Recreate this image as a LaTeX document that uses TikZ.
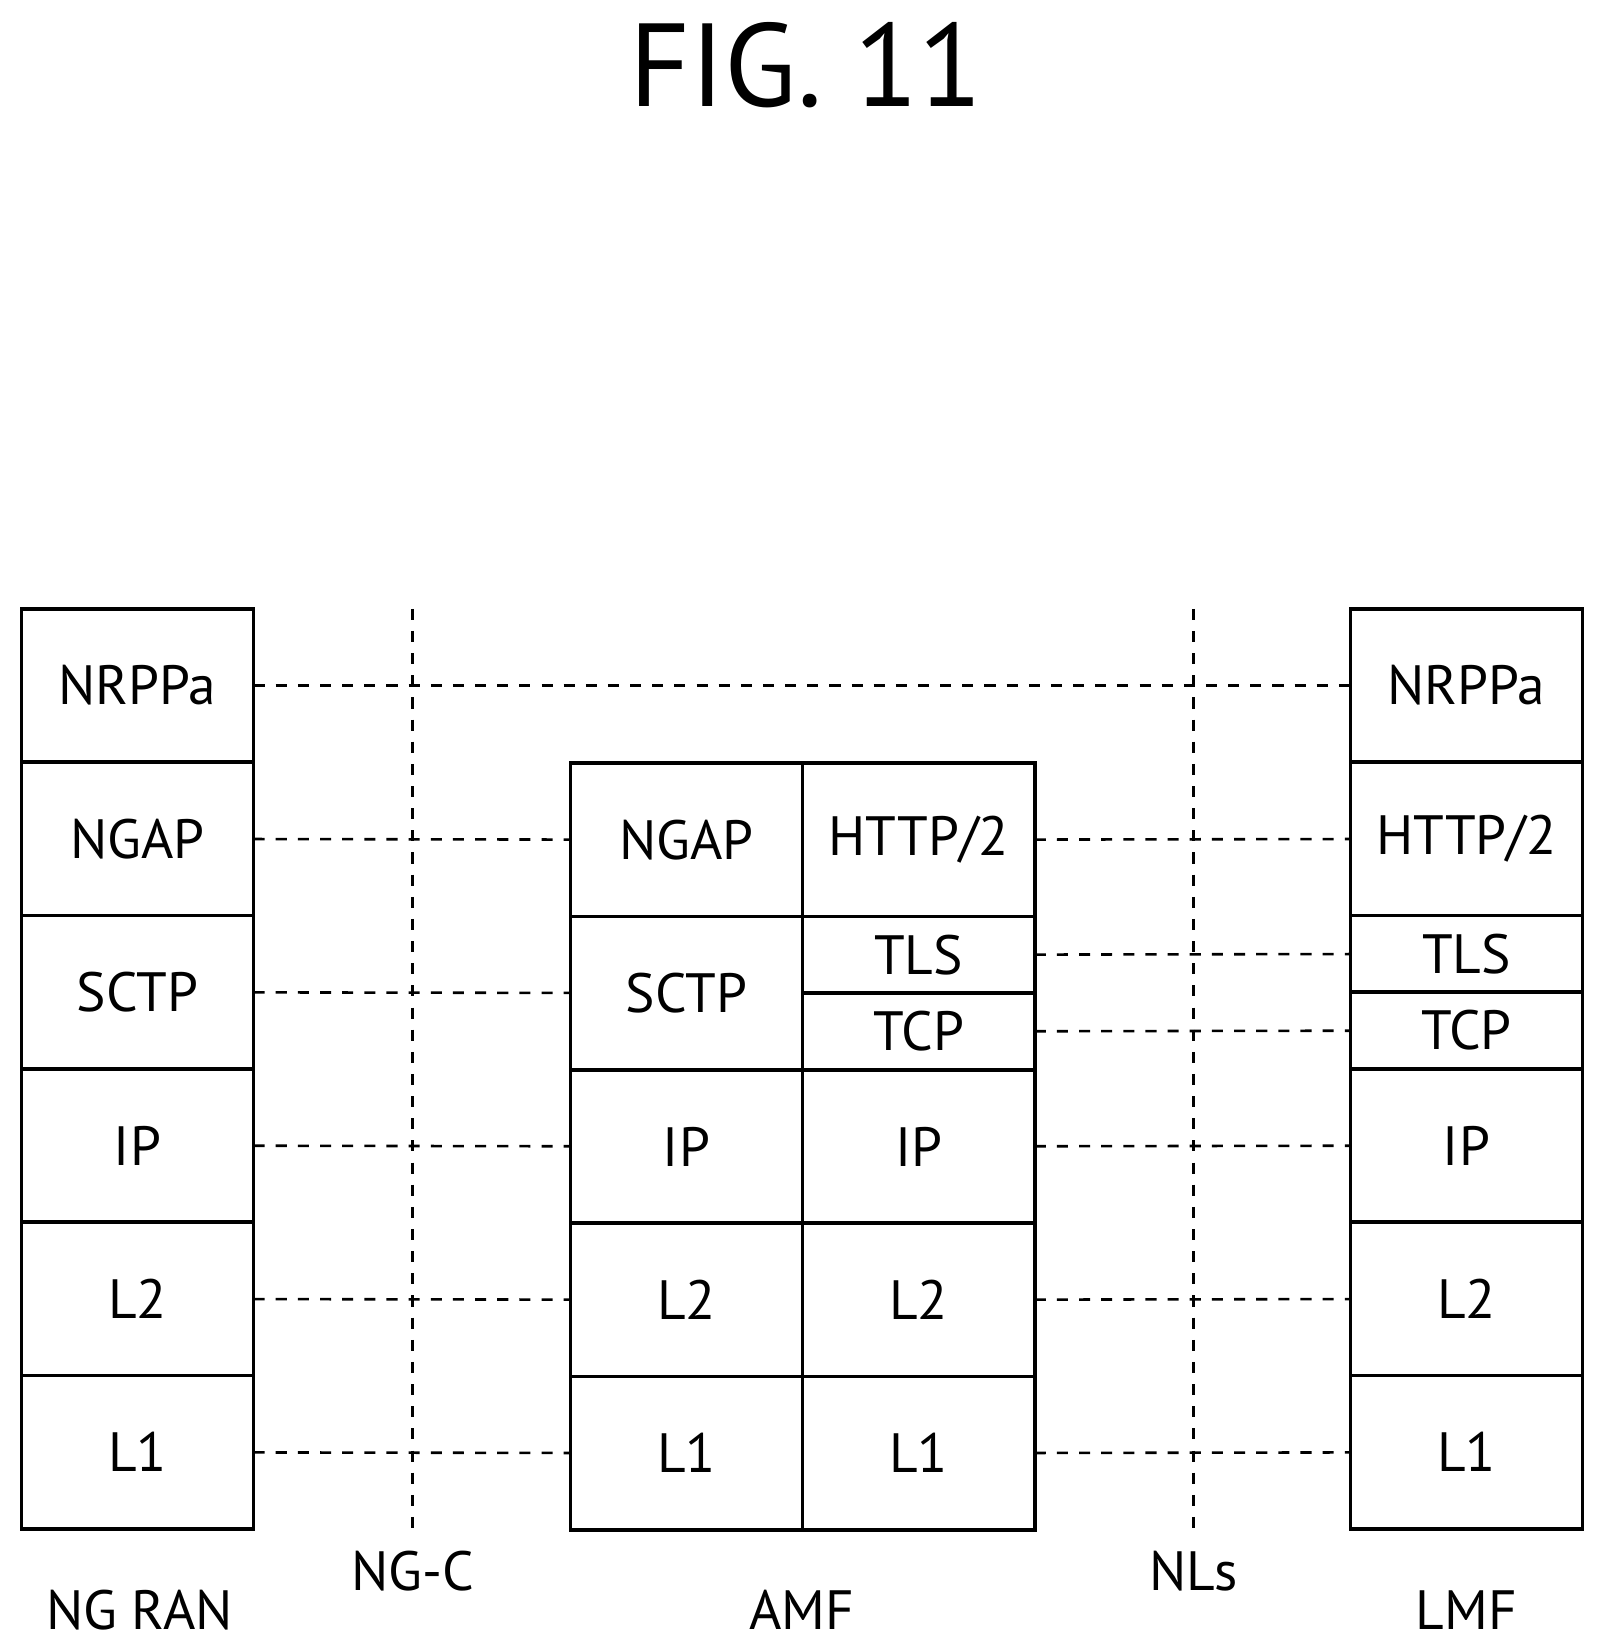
\documentclass[tikz,border=0pt]{standalone}
\usepackage{fontspec}
\setmainfont{PT Sans}
\usetikzlibrary{positioning}
\begin{document}
\begin{tikzpicture}[
  x=0.01cm, y=-0.01cm,
  font=\fontsize{15}{17}\selectfont,
  layer/.style={draw, line width=1pt, outer sep=0pt, minimum width=2.21cm, minimum height=1.46cm, inner sep=0pt},
  half/.style={layer, minimum height=0.73cm},
  peer/.style={dashed, line width=0.7pt}
]
\useasboundingbox (0,0) rectangle (1530,1569);
% Title
\node (title) at (768,62) {\fontsize{32}{36}\selectfont FIG. 11};

% NG RAN stack
\node[layer] (ran1) at (131,653) {NRPPa};
\node[layer, below=0pt of ran1] (ran2) {NGAP};
\node[layer, below=0pt of ran2] (ran3) {SCTP};
\node[layer, below=0pt of ran3] (ran4) {IP};
\node[layer, below=0pt of ran4] (ran5) {L2};
\node[layer, below=0pt of ran5] (ran6) {L1};

% AMF stack
\node[layer] (amfa2) at (654,800) {NGAP};
\node[layer, below=0pt of amfa2] (amfa3) {SCTP};
\node[layer, below=0pt of amfa3] (amfa4) {IP};
\node[layer, below=0pt of amfa4] (amfa5) {L2};
\node[layer, below=0pt of amfa5] (amfa6) {L1};
\node[layer, right=0pt of amfa2] (amfb2) {HTTP/2};
\node[half, below=0pt of amfb2] (amfb3) {TLS};
\node[half, below=0pt of amfb3] (amfb4) {TCP};
\node[layer, below=0pt of amfb4] (amfb5) {IP};
\node[layer, below=0pt of amfb5] (amfb6) {L2};
\node[layer, below=0pt of amfb6] (amfb7) {L1};

% LMF stack
\node[layer] (lmf1) at (1397,653) {NRPPa};
\node[layer, below=0pt of lmf1] (lmf2) {HTTP/2};
\node[half, below=0pt of lmf2] (lmf3) {TLS};
\node[half, below=0pt of lmf3] (lmf4) {TCP};
\node[layer, below=0pt of lmf4] (lmf5) {IP};
\node[layer, below=0pt of lmf5] (lmf6) {L2};
\node[layer, below=0pt of lmf6] (lmf7) {L1};

% Reference points
\coordinate (ngtop) at (393,580);
\coordinate (ngbot) at (393,1457);
\coordinate (nltop) at (1137,580);
\coordinate (nlbot) at (1137,1457);
\draw[peer] (ngtop) -- (ngbot);
\draw[peer] (nltop) -- (nlbot);
\node (ngc) at (393,1497) {NG-C};
\node (nls) at (1137,1497) {NLs};

% Peer links
\draw[peer] (ran1) -- (lmf1);
\draw[peer] (ran2) -- (amfa2);
\draw[peer] (ran3) -- (amfa3);
\draw[peer] (ran4) -- (amfa4);
\draw[peer] (ran5) -- (amfa5);
\draw[peer] (ran6) -- (amfa6);
\draw[peer] (amfb2) -- (lmf2);
\draw[peer] (amfb3) -- (lmf3);
\draw[peer] (amfb4) -- (lmf4);
\draw[peer] (amfb5) -- (lmf5);
\draw[peer] (amfb6) -- (lmf6);
\draw[peer] (amfb7) -- (lmf7);

% Entity names
\node (ranname) at (133,1534) {NG RAN};
\node (amfname) at (764,1534) {AMF};
\node (lmfname) at (1397,1534) {LMF};
\end{tikzpicture}
\end{document}
